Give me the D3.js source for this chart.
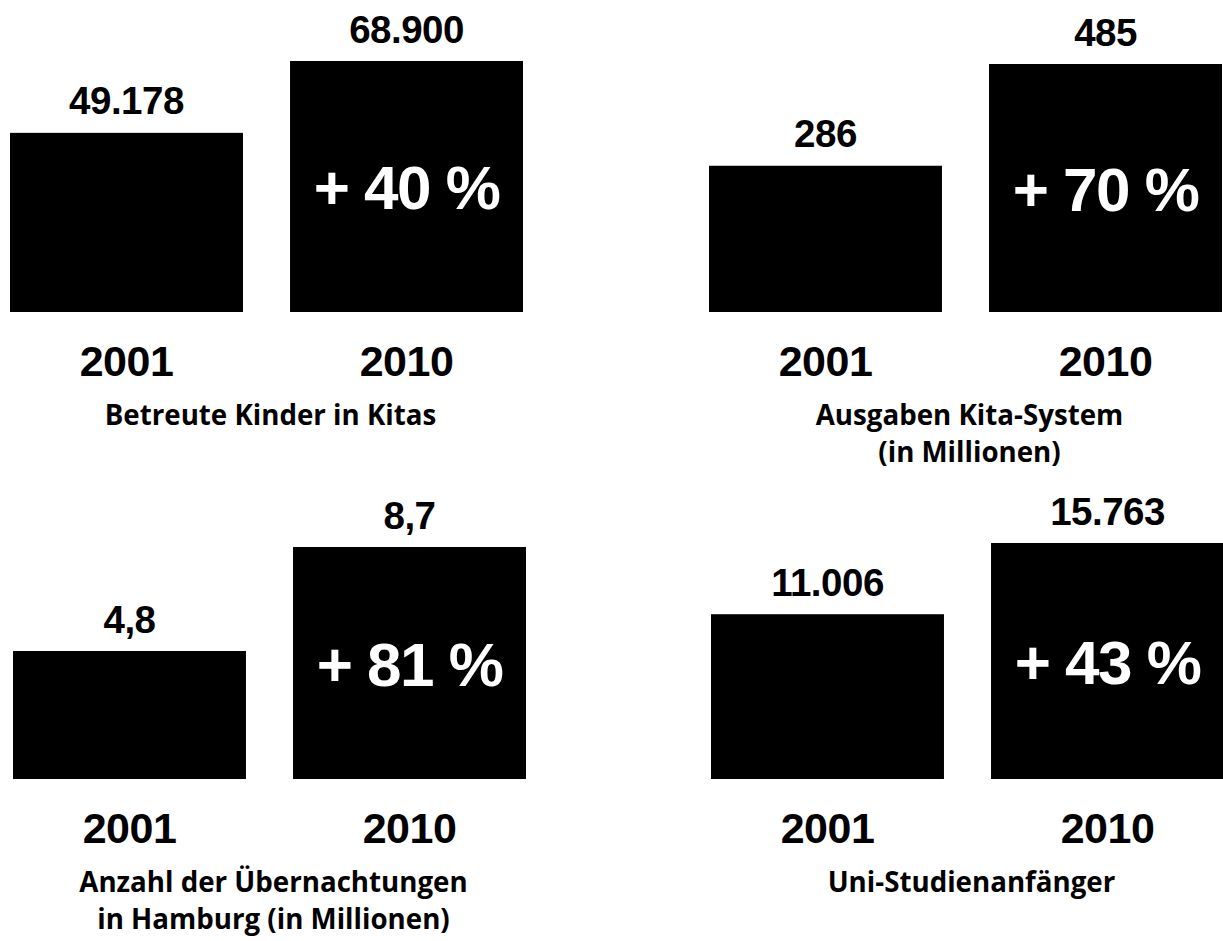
<!DOCTYPE html>
<html>
<head>
<meta charset="utf-8">
<script src="https://cdn.jsdelivr.net/npm/d3@7"></script>
<style>
  body { margin: 0; background: #fff; }
  svg { display: block; }
</style>
</head>
<body>
<script>
//years on the x axis of every small chart
var years = ["2001", "2010"];

//values per chart, 2001 and 2010
var kinder = [49178, 68900];
var ausgaben = [286, 485];
var uebernachtungen = [4.8, 8.7];
var studienanfaenger = [11006, 15763];

//titles under each chart (one entry per line)
var titel1 = ["Betreute Kinder in Kitas"];
var titel2 = ["Ausgaben Kita-System", "(in Millionen)"];
var titel3 = ["Anzahl der Übernachtungen", "in Hamburg (in Millionen)"];
var titel4 = ["Uni-Studienanfänger"];

//german number format: 49.178 and 4,8
var de = d3.formatLocale({decimal: ",", thousands: ".", grouping: [3], currency: ["", " €"]});

var charts = [
  {values: kinder, title: titel1, fmt: de.format(",d")},
  {values: ausgaben, title: titel2, fmt: de.format(",d")},
  {values: uebernachtungen, title: titel3, fmt: de.format(",.1f")},
  {values: studienanfaenger, title: titel4, fmt: de.format(",d")}
];

//where each chart sits on the page (x range of bars, bar baseline, height of tallest bar)
var layout = [
  {x0: 10, x1: 523, bottom: 312, h: 251},
  {x0: 709, x1: 1222, bottom: 312, h: 248},
  {x0: 13, x1: 526, bottom: 779, h: 232},
  {x0: 711, x1: 1224, bottom: 779, h: 236}
];

var numFont = "'Liberation Sans', Arial, Helvetica, sans-serif";
var titleFont = "'Open Sans', 'Noto Sans', sans-serif";

var svg = d3.select("body").append("svg")
  .attr("width", 1223)
  .attr("height", 941);

charts.forEach(function(c, i) {
  var l = layout[i];
  var g = svg.append("g");

  var x = d3.scaleBand()
    .domain(years)
    .range([l.x0, l.x1])
    .paddingInner(0.168)
    .paddingOuter(0);

  var y = d3.scaleLinear()
    .domain([0, d3.max(c.values)])
    .range([l.bottom, l.bottom - l.h]);

  var data = years.map(function(yr, j) { return {year: yr, value: c.values[j]}; });

  //bars
  g.selectAll("rect")
    .data(data)
    .enter()
    .append("rect")
    .attr("x", function(d) { return x(d.year); })
    .attr("y", function(d) { return y(d.value); })
    .attr("width", x.bandwidth())
    .attr("height", function(d) { return y(0) - y(d.value); })
    .attr("fill", "#000");

  //value above bar
  g.selectAll("text.val")
    .data(data)
    .enter()
    .append("text")
    .attr("class", "val")
    .attr("x", function(d) { return x(d.year) + x.bandwidth() / 2; })
    .attr("y", function(d) { return y(d.value) - 18.5; })
    .attr("text-anchor", "middle")
    .attr("font-family", numFont)
    .attr("font-weight", "bold")
    .attr("font-size", "38.5px")
    .attr("letter-spacing", "-0.5px")
    .attr("fill", "#000")
    .text(function(d) { return c.fmt(d.value); });

  //year under bar
  g.selectAll("text.yr")
    .data(data)
    .enter()
    .append("text")
    .attr("class", "yr")
    .attr("x", function(d) { return x(d.year) + x.bandwidth() / 2; })
    .attr("y", l.bottom + 64)
    .attr("text-anchor", "middle")
    .attr("font-family", numFont)
    .attr("font-weight", "bold")
    .attr("font-size", "43px")
    .attr("letter-spacing", "-0.5px")
    .attr("fill", "#000")
    .text(function(d) { return d.year; });

  //growth in percent, white inside the 2010 bar
  var last = data[1];
  var pct = Math.round((c.values[1] / c.values[0] - 1) * 100);
  g.append("text")
    .attr("x", x(last.year) + x.bandwidth() / 2)
    .attr("y", (y(last.value) + y(0)) / 2 + 22.5)
    .attr("text-anchor", "middle")
    .attr("font-family", numFont)
    .attr("font-weight", "bold")
    .attr("font-size", "62px")
    .attr("letter-spacing", "-1.5px")
    .attr("fill", "#fff")
    .text("+ " + pct + " %");

  //title lines
  var cx = (l.x0 + l.x1) / 2 + 4;
  g.selectAll("text.tt")
    .data(c.title)
    .enter()
    .append("text")
    .attr("class", "tt")
    .attr("x", cx)
    .attr("y", function(d, k) { return l.bottom + 113 + k * 37; })
    .attr("text-anchor", "middle")
    .attr("font-family", titleFont)
    .attr("font-weight", "bold")
    .attr("font-size", "27.7px")
    .attr("fill", "#000")
    .text(function(d) { return d; });
});
</script>
</body>
</html>
